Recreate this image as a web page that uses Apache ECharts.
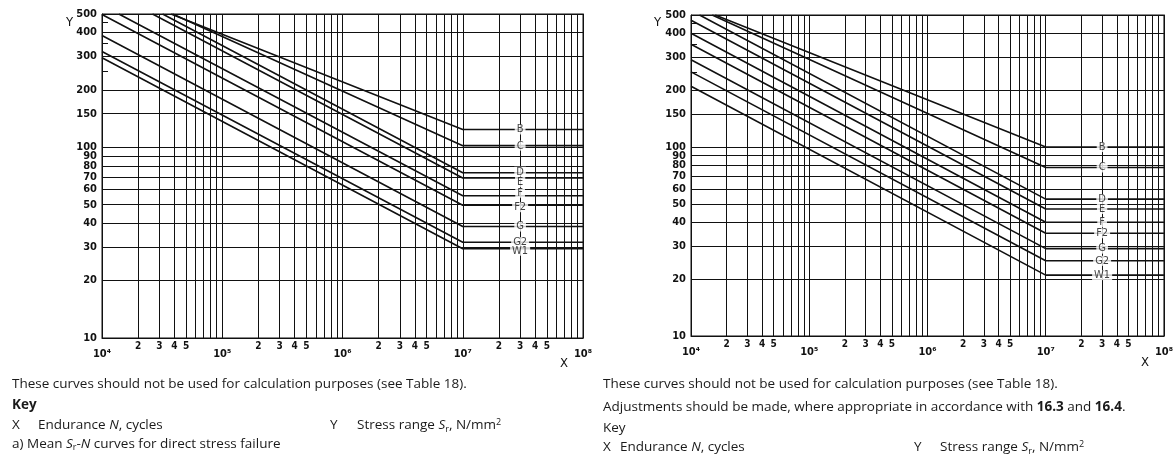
<!DOCTYPE html>
<html><head><meta charset="utf-8">
<script src="https://cdn.jsdelivr.net/npm/echarts@6/dist/echarts.min.js"></script>
<style>html,body{margin:0;padding:0;background:#fff}#c{width:1176px;height:462px}</style>
</head><body><div id="c"></div>
<script>
// ---------------- data ----------------
const classNames = ['B', 'C', 'D', 'E', 'F', 'F2', 'G', 'G2', 'W1'];

// (a) mean curves: start point (N, S) and constant amplitude value beyond the knee at 1e7
const meanStartN = [37500, 38700, 31900, 26300, 13800, 10000, 10000, 10000, 10000];
const meanStartS = [500, 500, 500, 500, 500, 497, 386, 318, 295];
const meanKneeS  = [124, 102, 73.6, 69, 55.7, 49.7, 38.4, 31.8, 29.4];

// (b) design curves
const designStartN = [16000, 15100, 11800, 10000, 10000, 10000, 10000, 10000, 10000];
const designStartS = [500, 500, 500, 469, 400, 350, 290, 250, 210];
const designKneeS  = [100, 78, 53, 47, 40, 35, 29, 25, 21];

const kneeN = 1e7;
const endN = 1e8;
const labelN = 3e7;

const xGridValues = [1e4,2e4,3e4,4e4,5e4,6e4,7e4,8e4,9e4,
  1e5,2e5,3e5,4e5,5e5,6e5,7e5,8e5,9e5,
  1e6,2e6,3e6,4e6,5e6,6e6,7e6,8e6,9e6,
  1e7,2e7,3e7,4e7,5e7,6e7,7e7,8e7,9e7,1e8];
const xLabelValues = [1e4,2e4,3e4,4e4,5e4,1e5,2e5,3e5,4e5,5e5,1e6,2e6,3e6,4e6,5e6,1e7,2e7,3e7,4e7,5e7,1e8];
const xLabelTexts  = ['10⁴','2','3','4','5','10⁵','2','3','4','5','10⁶','2','3','4','5','10⁷','2','3','4','5','10⁸'];
const yGridValues  = [10,20,30,40,50,60,70,80,90,100,150,200,300,400,500];
const yLabelValues = [10,20,30,40,50,60,70,80,90,100,150,200,300,400,500];
const yMinorTicks  = [250,350,450];

// ---------------- styles ----------------
const INK = '#111';
const condFont = "'Liberation Sans Narrow', 'DejaVu Sans Condensed', 'Roboto', sans-serif";
const textFont = "'Open Sans', 'Noto Sans', sans-serif";
const TFS = 13.5;
const leftLabelNudge = { D: -1, E: 4, F: -3, F2: 2, W1: 2 };

const grids = [
  { left: 102, top: 14, width: 481, height: 324 },
  { left: 691, top: 15, width: 474, height: 321 }
];

function xLabelFormatter(v) {
  const i = xLabelValues.findIndex(a => Math.abs(a - v) / a < 1e-6);
  if (i < 0) return '';
  const t = xLabelTexts[i];
  return t.length > 1 ? '{d|' + t + '}' : '{m|' + t + '}';
}

const xAxes = grids.map((g, gi) => ({
  type: 'log', logBase: 10, min: 1e4, max: 1e8, gridIndex: gi,
  axisLine: { show: true, lineStyle: { color: INK, width: 1 } },
  axisTick: { show: false, customValues: xGridValues },
  splitLine: { show: true, lineStyle: { color: INK, width: 1 } },
  minorTick: { show: false }, minorSplitLine: { show: false },
  axisLabel: {
    customValues: xLabelValues, formatter: xLabelFormatter, margin: 3,
    color: INK, fontFamily: condFont, fontSize: 10,
    rich: {
      m: { fontFamily: condFont, fontSize: 10, fontWeight: 'bold', color: INK },
      d: { fontFamily: condFont, fontSize: 11, fontWeight: 'bold', color: INK, padding: [8, 0, 0, 0] }
    }
  }
}));

const yAxesMain = grids.map((g, gi) => ({
  type: 'log', logBase: 10, min: 10, max: 500, gridIndex: gi, position: 'left',
  axisLine: { show: true, lineStyle: { color: INK, width: 1 } },
  axisTick: { show: true, inside: true, length: 6, customValues: yMinorTicks, lineStyle: { color: INK, width: 1 } },
  splitLine: { show: false },
  minorTick: { show: false },
  axisLabel: {
    customValues: yLabelValues, margin: 5, color: INK, fontFamily: condFont, fontSize: 11, fontWeight: 'bold',
    formatter: v => String(Math.round(v))
  }
}));
const yAxesGrid = grids.map((g, gi) => ({
  type: 'log', logBase: 10, min: 10, max: 500, gridIndex: gi, position: 'right',
  axisLine: { show: true, lineStyle: { color: INK, width: 1 } },
  axisTick: { show: false, customValues: yGridValues },
  splitLine: { show: true, lineStyle: { color: INK, width: 1 } },
  minorTick: { show: false },
  axisLabel: { show: false }
}));

function curveSeries(startN, startS, kneeS, gi) {
  return classNames.map((n, i) => ({
    type: 'line', name: n, xAxisIndex: gi, yAxisIndex: gi,
    symbol: 'none', silent: true, z: 3,
    lineStyle: { color: INK, width: 1.6 },
    data: [[startN[i], startS[i]], [kneeN, kneeS[i]], [endN, kneeS[i]]]
  }));
}
function labelSeries(kneeS, gi, nudge) {
  return {
    type: 'scatter', xAxisIndex: gi, yAxisIndex: gi, symbolSize: 1, silent: true, z: 5,
    itemStyle: { color: 'transparent' },
    label: {
      show: true, position: 'inside', formatter: '{b}', color: INK,
      fontFamily: condFont, fontSize: 11, backgroundColor: '#fff', padding: [0, 2], lineHeight: 10
    },
    data: classNames.map((n, i) => ({
      name: n, value: [labelN, kneeS[i]],
      label: { offset: [0, (nudge && nudge[n]) || 0] }
    }))
  };
}

function txt(left, top, text, extra) {
  return {
    type: 'text', left: left, top: top, silent: true,
    style: Object.assign({ text: text, fill: '#1a1a1a', font: TFS + 'px ' + textFont }, extra || {})
  };
}
const richBase = {
  i: { fontFamily: textFont, fontSize: TFS, fontStyle: 'italic', fill: '#1a1a1a' },
  sub: { fontFamily: textFont, fontSize: 9, fill: '#1a1a1a', padding: [7, 0, 0, 0] },
  sup: { fontFamily: textFont, fontSize: 9, fill: '#1a1a1a', padding: [0, 0, 6, 0] },
  b: { fontFamily: textFont, fontSize: TFS, fontWeight: 'bold', fill: '#1a1a1a' },
  n: { fontFamily: textFont, fontSize: TFS, fill: '#1a1a1a' }
};
function rtxt(left, top, text) {
  return { type: 'text', left: left, top: top, silent: true,
    style: { text: text, rich: richBase, fill: '#1a1a1a', font: TFS + 'px ' + textFont } };
}
const axisNameFont = { font: '13px ' + condFont, fill: INK };

const graphics = [
  txt(66, 16, 'Y', axisNameFont),
  txt(560, 357, 'X', axisNameFont),
  txt(654, 16, 'Y', axisNameFont),
  txt(1141, 356, 'X', axisNameFont),
  txt(12, 377, 'These curves should not be used for calculation purposes (see Table 18).'),
  txt(12, 398, 'Key', { font: 'bold ' + TFS + 'px ' + textFont }),
  txt(12, 418, 'X'),
  rtxt(38, 418, '{n|Endurance }{i|N}{n|, cycles}'),
  txt(330, 418, 'Y'),
  rtxt(357, 418, '{n|Stress range }{i|S}{sub|r}{n|, N/mm}{sup|2}'),
  rtxt(12, 437, '{n|a) Mean }{i|S}{sub|r}{n|-}{i|N}{n| curves for direct stress failure}'),
  txt(603, 377, 'These curves should not be used for calculation purposes (see Table 18).'),
  rtxt(603, 400, '{n|Adjustments should be made, where appropriate in accordance with }{b|16.3}{n| and }{b|16.4}{n|.}'),
  txt(603, 421, 'Key'),
  txt(603, 440, 'X'),
  rtxt(620, 440, '{n|Endurance }{i|N}{n|, cycles}'),
  txt(914, 440, 'Y'),
  rtxt(940, 440, '{n|Stress range }{i|S}{sub|r}{n|, N/mm}{sup|2}')
];

const chart = echarts.init(document.getElementById('c'), null, { renderer: 'canvas' });
chart.setOption({
  animation: false,
  backgroundColor: '#fff',
  grid: grids.map(g => Object.assign({ show: true, borderColor: INK, borderWidth: 1, containLabel: false }, g)),
  xAxis: xAxes,
  yAxis: yAxesMain.concat(yAxesGrid),
  series: curveSeries(meanStartN, meanStartS, meanKneeS, 0)
    .concat(curveSeries(designStartN, designStartS, designKneeS, 1))
    .concat([labelSeries(meanKneeS, 0, leftLabelNudge), labelSeries(designKneeS, 1, null)]),
  graphic: graphics
});
</script></body></html>
